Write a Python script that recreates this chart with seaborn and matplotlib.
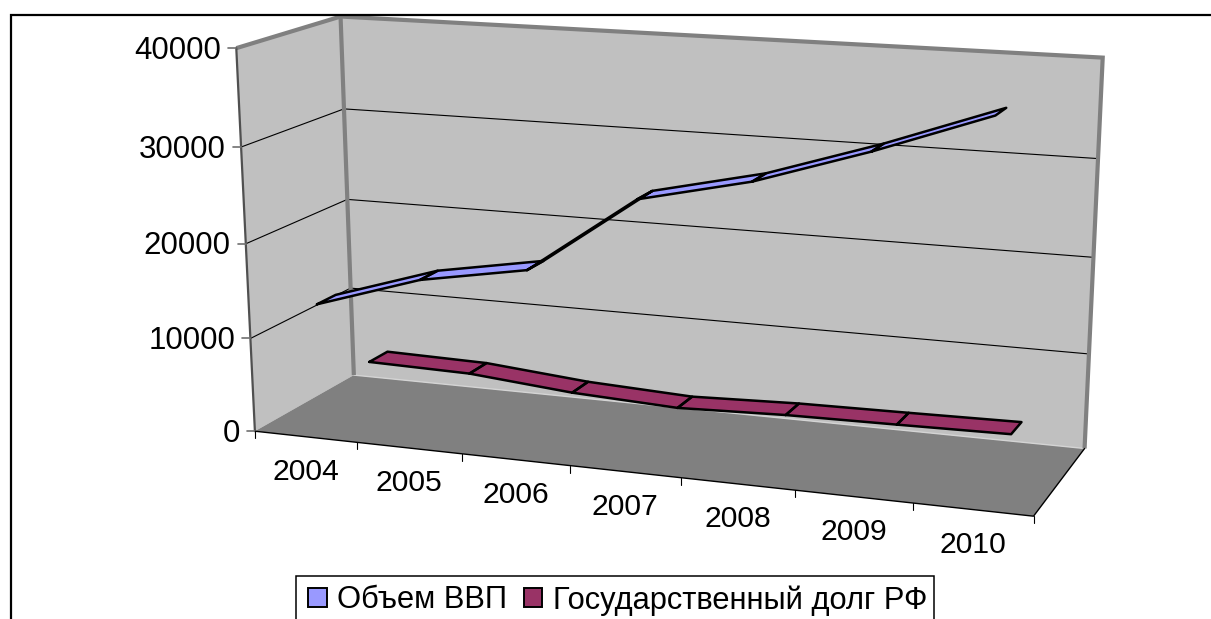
import numpy as np
import pandas as pd
import seaborn as sns
import matplotlib
matplotlib.use("Agg")
import matplotlib.pyplot as plt
from matplotlib.patches import Patch, Rectangle

years = ["2004", "2005", "2006", "2007", "2008", "2009", "2010"]
gdp = [13260, 16810, 18780, 26830, 29400, 33090, 37240]
debt = [4100, 3900, 2920, 2410, 2810, 2970, 3160]
y_ticks = [0, 10000, 20000, 30000, 40000]
y_max = 40000
series_names = ["Объем ВВП", "Государственный долг РФ"]

sns.set_theme(style="white")
plt.rcParams["font.family"] = ["Liberation Sans", "DejaVu Sans"]

# camera of the excel 3d box: (category, value share, depth) -> pixel
anchors = [
    (0, 0, 0, 254, 432), (0, .25, 0, 250, 338), (0, .5, 0, 246, 243), (0, .75, 0, 242, 147), (0, 1, 0, 237, 48),
    (0, 0, 1, 355, 374), (0, .25, 1, 351, 288), (0, .5, 1, 347, 200), (0, .75, 1, 343, 110), (0, 1, 1, 340, 16),
    (7, 0, 1, 1085, 448), (7, .25, 1, 1089, 354), (7, .5, 1, 1093, 258), (7, .75, 1, 1098, 159), (7, 1, 1, 1103, 57),
    (7, 0, 0, 1033, 516), (1, 0, 0, 357, 443), (2, 0, 0, 462, 454), (6, 0, 0, 913, 503),
]
A, b = [], []
for x, y, z, u, v in anchors:
    A.append([x, y, z, 1, 0, 0, 0, 0, -u * x, -u * y, -u * z])
    b.append(u)
    A.append([0, 0, 0, 0, x, y, z, 1, -v * x, -v * y, -v * z])
    b.append(v)
p = np.linalg.lstsq(np.array(A, float), np.array(b, float), rcond=None)[0]
P = np.append(p, 1).reshape(3, 4)


def proj(x, value, z):
    h = P @ np.array([x, value / y_max, z, 1.0])
    return h[0] / h[2], h[1] / h[2]


fig = plt.figure(figsize=(12.11, 6.19), dpi=100)
ax = fig.add_axes([0, 0, 1, 1])
ax.set_xlim(0, 1211)
ax.set_ylim(619, 0)
ax.axis("off")

n = len(years)
WALL = "#C0C0C0"
FLOOR = "#808080"
EDGE = "#808080"

# walls and floor
left_wall = [proj(0, 0, 0), proj(0, y_max, 0), proj(0, y_max, 1), proj(0, 0, 1)]
back_wall = [proj(0, 0, 1), proj(0, y_max, 1), proj(n, y_max, 1), proj(n, 0, 1)]
floor = [proj(0, 0, 0), proj(0, 0, 1), proj(n, 0, 1), proj(n, 0, 0)]
ax.fill(*zip(*left_wall), color=WALL, lw=0, zorder=1)
ax.fill(*zip(*back_wall), color=WALL, lw=0, zorder=1)
ax.fill(*zip(*floor), color=FLOOR, lw=0, zorder=1)

# gridlines, left wall then back wall
for t in y_ticks[1:-1]:
    pts = [proj(0, t, 0), proj(0, t, 1), proj(n, t, 1)]
    ax.plot(*zip(*pts), color="black", lw=0.8, zorder=1.5)

ax.plot(*zip(proj(0, 0, 1), proj(n, 0, 1)), color="#D4D4D4", lw=1, zorder=1.4)

# thick wall edges
for seg in [
    [proj(0, y_max, 0), proj(0, y_max, 1), proj(n, y_max, 1), proj(n, 0, 1)],
    [proj(0, y_max, 1), proj(0, 0, 1)],
]:
    ax.plot(*zip(*seg), color=EDGE, lw=3, zorder=1.6, solid_joinstyle="miter", solid_capstyle="butt")
ax.plot(*zip(proj(0, y_max, 0), proj(0, 0, 0)), color="#505050", lw=1.6, zorder=1.7)

# axis lines and ticks
ax.plot(*zip(proj(0, 0, 0), proj(n, 0, 0), proj(n, 0, 1)), color="black", lw=1, zorder=1.8)
for t in y_ticks:
    u, v = proj(0, t, 0)
    ax.plot([u - 8, u], [v, v], color="#707070", lw=1.2, zorder=1.8)
    ax.annotate(str(t), (u - 15, v - 1), ha="right", va="center_baseline", fontsize=22.5, color="black")
for i in range(n + 1):
    u, v = proj(i, 0, 0)
    ax.plot([u, u], [v, v + 7], color="black", lw=0.8, zorder=1.8)
for i, year in enumerate(years):
    u, v = proj(i + 0.5, 0, 0)
    ax.annotate(year, (u, v + 32), ha="center", va="center_baseline", fontsize=21.7, color="black")

# ribbons
colors = ["#9999FF", "#993366"]
depths = [(0.16, 0.345), (0.66, 0.855)]
rows = []
for k, values in enumerate([gdp, debt]):
    z0, z1 = depths[k]
    for i in range(n - 1):
        x0, x1 = i + 0.5, i + 1.5
        poly = [
            proj(x0, values[i], z0),
            proj(x1, values[i + 1], z0),
            proj(x1, values[i + 1], z1),
            proj(x0, values[i], z1),
        ]
        ax.fill(*zip(*poly), color=colors[k], lw=0, zorder=3)
        for u, v in poly + poly[:1]:
            rows.append({"px": u, "py": v, "seg": f"{k}-{i}"})
outline = pd.DataFrame(rows)
sns.lineplot(
    data=outline, x="px", y="py", units="seg", estimator=None, sort=False,
    color="black", lw=1.8, ax=ax, legend=False, zorder=4,
)
ax.set_xlim(0, 1211)
ax.set_ylim(619, 0)
ax.axis("off")

# chart frame, bottom and right are cut off by the image
ax.plot([11, 11, 1211], [619, 15, 15], color="black", lw=1.6, zorder=5, solid_joinstyle="miter")

# legend box runs past the bottom of the picture
ax.add_patch(Rectangle((296, 576), 638, 60, facecolor="white", edgecolor="black", lw=1.1, zorder=5.5))
handles = [Patch(facecolor=c, edgecolor="black", lw=1.4) for c in colors]
leg = ax.legend(
    handles, series_names, ncol=2, loc="upper left", bbox_to_anchor=(308, 585),
    bbox_transform=ax.transData, fontsize=22.2, frameon=False, labelcolor="black",
    borderaxespad=0, borderpad=0, handlelength=0.6, handleheight=0.55,
    handletextpad=0.33, columnspacing=0.56,
)
leg.set_zorder(6)

fig.savefig("out.png", dpi=100, facecolor="white")
